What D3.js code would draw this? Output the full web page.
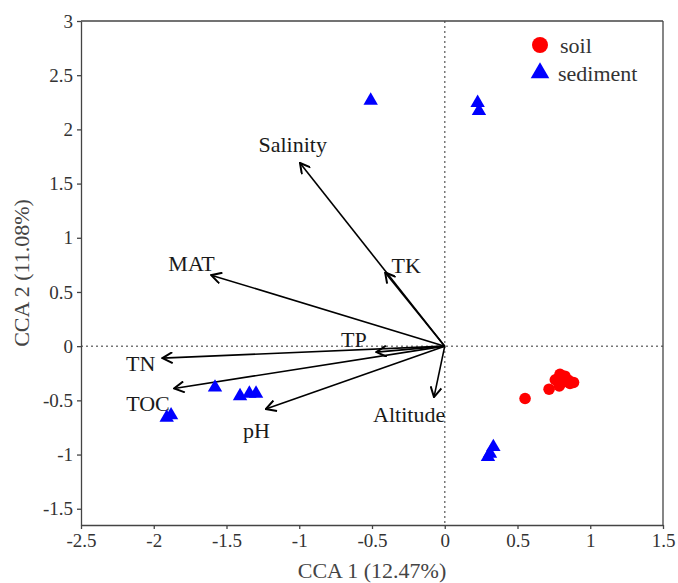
<!DOCTYPE html>
<html>
<head>
<meta charset="utf-8">
<script src="https://cdn.jsdelivr.net/npm/d3@7"></script>
<style>
  body { margin: 0; background: #fff; }
  svg text { font-family: "Liberation Serif", "Times New Roman", serif; fill: #333; }
</style>
</head>
<body>
<svg id="chart" width="678" height="583"></svg>
<script>
// CCA biplot - soil vs sediment samples with environmental vectors
var xTicks = [-2.5, -2, -1.5, -1, -0.5, 0, 0.5, 1, 1.5];
var yTicks = [-1.5, -1, -0.5, 0, 0.5, 1, 1.5, 2, 2.5, 3];

// env vectors: name, tip x, tip y
var envNames = ["Salinity", "TK", "MAT", "TP", "TN", "TOC", "pH", "Altitude"];
var envX = [-0.995, -0.41, -1.605, -0.47, -1.94, -1.86, -1.23, -0.074];
var envY = [1.69, 0.68, 0.655, -0.055, -0.11, -0.39, -0.58, -0.47];
// label positions (centre of the text)
var labX = [-1.045, -0.265, -1.74, -0.625, -2.09, -2.04, -1.295, -0.245];
var labY = [1.86, 0.74, 0.76, 0.06, -0.16, -0.53, -0.78, -0.63];

var soilX = [0.552, 0.717, 0.787, 0.792, 0.826, 0.849, 0.861, 0.813, 0.76, 0.885];
var soilY = [-0.483, -0.397, -0.367, -0.259, -0.277, -0.314, -0.344, -0.33, -0.31, -0.335];

var sedX = [-0.509, 0.226, 0.235, -1.579, -1.407, -1.343, -1.297, -1.911, -1.881, 0.334, 0.311, 0.297];
var sedY = [2.265, 2.246, 2.17, -0.381, -0.46, -0.437, -0.437, -0.658, -0.637, -0.93, -0.99, -1.02];

var svg = d3.select("#chart");
var margin = {left: 81, right: 15, top: 21, bottom: 58};
var W = 678, H = 583;

var x = d3.scaleLinear().domain([-2.5, 1.5]).range([margin.left, W - margin.right]);
var y = d3.scaleLinear().domain([-1.65, 3]).range([H - margin.bottom, margin.top]);

var fmt = function (d) { return String(d); };

// dotted zero lines
svg.append("line")
	.attr("x1", x(0)).attr("x2", x(0)).attr("y1", y(3)).attr("y2", y(-1.65))
	.attr("stroke", "#777").attr("stroke-width", 1.5).attr("stroke-dasharray", "2,3");
svg.append("line")
	.attr("x1", x(-2.5)).attr("x2", x(1.5)).attr("y1", y(0)).attr("y2", y(0))
	.attr("stroke", "#777").attr("stroke-width", 1.5).attr("stroke-dasharray", "2,3");

// axes
var xAxis = svg.append("g")
	.attr("transform", "translate(0," + (H - margin.bottom) + ")")
	.call(d3.axisBottom(x).tickValues(xTicks).tickFormat(fmt).tickSize(4).tickSizeOuter(0));
var yAxis = svg.append("g")
	.attr("transform", "translate(" + margin.left + ",0)")
	.call(d3.axisLeft(y).tickValues(yTicks).tickFormat(fmt).tickSize(4).tickSizeOuter(0));

[xAxis, yAxis].forEach(function (a) {
	a.attr("font-family", null).attr("font-size", null);
	a.selectAll("path, line").attr("stroke", "#444").attr("stroke-width", 1.3);
	a.selectAll("text").style("font-family", "'Liberation Serif', serif").style("font-size", "19px").style("fill", "#333");
});
xAxis.selectAll("text").attr("dy", "0.8em");
yAxis.selectAll("text").attr("dx", "-0.05em");

// top and right frame
svg.append("line")
	.attr("x1", x(-2.5)).attr("x2", x(1.5)).attr("y1", y(3)).attr("y2", y(3))
	.attr("stroke", "#444").attr("stroke-width", 1.3);
svg.append("line")
	.attr("x1", x(1.5)).attr("x2", x(1.5)).attr("y1", y(3)).attr("y2", y(-1.65))
	.attr("stroke", "#444").attr("stroke-width", 1.3);

// axis titles
svg.append("text")
	.attr("x", (margin.left + W - margin.right) / 2).attr("y", 578)
	.attr("text-anchor", "middle").style("font-size", "22px").style("fill", "#444")
	.text("CCA 1 (12.47%)");
svg.append("text")
	.attr("transform", "translate(29," + ((margin.top + H - margin.bottom) / 2) + ") rotate(-90)")
	.attr("text-anchor", "middle").style("font-size", "22px").style("fill", "#444")
	.text("CCA 2 (11.08%)");

// arrow head marker
svg.append("defs").append("marker")
	.attr("id", "head")
	.attr("viewBox", "0 -6 12 12")
	.attr("refX", 11).attr("refY", 0)
	.attr("markerWidth", 12).attr("markerHeight", 12)
	.attr("markerUnits", "userSpaceOnUse")
	.attr("orient", "auto")
	.append("path")
	.attr("d", "M1,-5.5L11,0L1,5.5")
	.attr("fill", "none").attr("stroke", "#000").attr("stroke-width", 2);

// env vectors
svg.selectAll("line.env").data(envNames).enter()
	.append("line").attr("class", "env")
	.attr("x1", x(0)).attr("y1", y(0))
	.attr("x2", function (d, i) { return x(envX[i]); })
	.attr("y2", function (d, i) { return y(envY[i]); })
	.attr("stroke", "#000").attr("stroke-width", 1.6)
	.attr("marker-end", "url(#head)");

svg.selectAll("text.env").data(envNames).enter()
	.append("text").attr("class", "env")
	.attr("x", function (d, i) { return x(labX[i]); })
	.attr("y", function (d, i) { return y(labY[i]); })
	.attr("text-anchor", "middle").attr("dominant-baseline", "central")
	.style("font-size", "22px").style("fill", "#1a1a1a")
	.text(function (d) { return d; });

// soil points
svg.selectAll("circle.soil").data(soilX).enter()
	.append("circle").attr("class", "soil")
	.attr("cx", function (d) { return x(d); })
	.attr("cy", function (d, i) { return y(soilY[i]); })
	.attr("r", 5.8).attr("fill", "#ff0000");

// sediment points
var tri = d3.symbol().type(d3.symbolTriangle).size(90);
svg.selectAll("path.sed").data(sedX).enter()
	.append("path").attr("class", "sed")
	.attr("d", tri)
	.attr("transform", function (d, i) { return "translate(" + x(d) + "," + y(sedY[i]) + ")"; })
	.attr("fill", "#0000ff");

// legend
var leg = svg.append("g");
leg.append("circle").attr("cx", 540).attr("cy", 45).attr("r", 8).attr("fill", "#ff0000");
leg.append("path").attr("d", d3.symbol().type(d3.symbolTriangle).size(150))
	.attr("transform", "translate(540,73)").attr("fill", "#0000ff");
leg.append("text").attr("x", 560).attr("y", 45).attr("dominant-baseline", "central")
	.style("font-size", "22px").style("fill", "#333").text("soil");
leg.append("text").attr("x", 558).attr("y", 73).attr("dominant-baseline", "central")
	.style("font-size", "22px").style("fill", "#333").text("sediment");
</script>
</body>
</html>
